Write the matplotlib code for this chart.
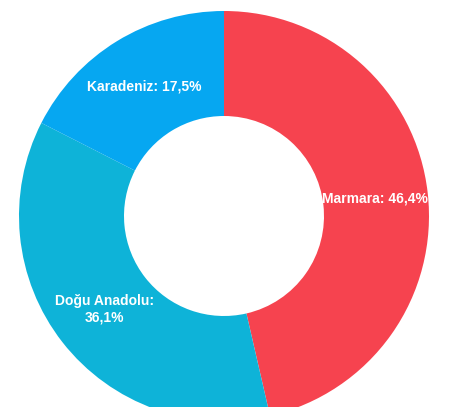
import matplotlib.pyplot as plt

# Data ------------------------------------------------------------------------
regions = ['Marmara', 'Doğu Anadolu', 'Karadeniz']
shares = [46.4, 36.1, 17.5]
label_texts = ['Marmara: 46,4%', 'Doğu Anadolu:\n36,1%', 'Karadeniz: 17,5%']
colors = ['#F6434F', '#0EB3D8', '#06A7F1']

# Build Plot ------------------------------------------------------------------
fig = plt.figure(figsize=(4.55, 4.07), dpi=100)
ax = fig.add_axes([0, 0, 1, 1])

wedges, texts = ax.pie(shares, labels=label_texts, colors=colors,
                       startangle=90, counterclock=False,
                       center=(224, 191), radius=205, labeldistance=0.74,
                       wedgeprops=dict(width=105, edgecolor='none'),
                       textprops=dict(color='white', fontsize=10,
                                      fontweight='bold',
                                      family='Liberation Sans'))
for t in texts:
    t.set_ha('center')
    t.set_va('center')
    t.set_multialignment('center')

ax.set_xlim(0, 455)
ax.set_ylim(0, 407)
ax.set_aspect('equal')
ax.axis('off')

fig.savefig('out.png', dpi=100)
